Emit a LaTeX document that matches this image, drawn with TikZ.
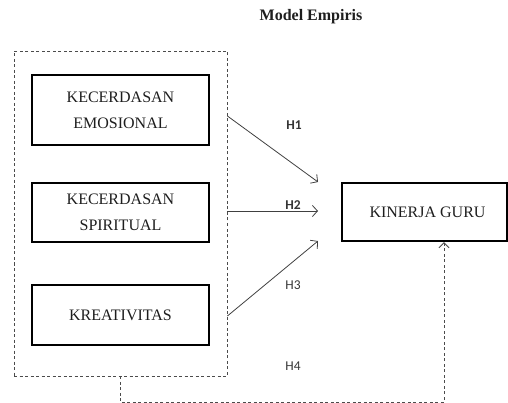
\documentclass[tikz,border=0pt]{standalone}
\usepackage{fontspec}
\setmainfont{Liberation Serif}
\newfontfamily\lblfont{Carlito}
\usetikzlibrary{arrows.meta}
\definecolor{ink}{HTML}{1E1E1E}
\tikzset{
  varbox/.style={draw=black, line width=2.4pt, minimum width=177pt, align=center, font=\fontsize{16}{26}\selectfont, text=ink, inner sep=0pt},
  grpbox/.style={draw=ink!80, dashed, line width=0.8pt, dash pattern=on 3pt off 2.5pt},
  hyp/.style={draw=ink!85, line width=0.8pt, -{Straight Barb[length=5pt,width=11pt,line width=0.8pt]}},
  hlab/.style={font=\lblfont\fontsize{13.5}{15}\selectfont, text=ink!90},
  hlabb/.style={font=\lblfont\bfseries\fontsize{13.5}{15}\selectfont, text=ink!90},
}
\begin{document}
\begin{tikzpicture}[x=1pt,y=-1pt]
\useasboundingbox (0,0) rectangle (508,403);
\node[font=\bfseries\fontsize{16}{18}\selectfont, text=ink] (title) at (311,17) {Model Empiris};
\node[grpbox, minimum width=213pt, minimum height=325pt, inner sep=0pt] (grp) at (120.5,213.5) {};
\node[varbox, minimum height=70pt] (e1) at (120.5,110) {KECERDASAN\\EMOSIONAL};
\node[varbox, minimum height=59pt] (e2) at (120.5,212.5) {KECERDASAN\\SPIRITUAL};
\node[varbox, minimum height=60pt] (e3) at (120.5,315) {KREATIVITAS};
\node[draw=black, line width=2.4pt, minimum width=165pt, minimum height=58pt, inner sep=0pt, font=\fontsize{16}{18}\selectfont, text=ink] (kg) at (424.5,212) {\hspace{6pt}KINERJA GURU};
\coordinate (s1) at (grp.east |- 0,116);
\coordinate (s2) at (grp.east |- 0,211);
\coordinate (s3) at (grp.east |- 0,316);
\coordinate (t1) at (318,182);
\coordinate (t2) at (318,211);
\coordinate (t3) at (318,241);
\draw[hyp] (s1) -- (t1);
\draw[hyp] (s2) -- (t2);
\draw[hyp] (s3) -- (t3);
\coordinate (b0) at (grp.south -| 120,0);
\coordinate (b1) at (kg.south -| 444,0);
\draw[grpbox, -{Straight Barb[length=5pt,width=10pt,line width=0.8pt]}] (b0) -- (120,402) -| (b1);
\node[hlabb] (h1) at (294,125) {H1};
\node[hlabb] (h2) at (293,205) {H2};
\node[hlab] (h3) at (293,285) {H3};
\node[hlab] (h4) at (293,366) {H4};
\end{tikzpicture}
\end{document}
